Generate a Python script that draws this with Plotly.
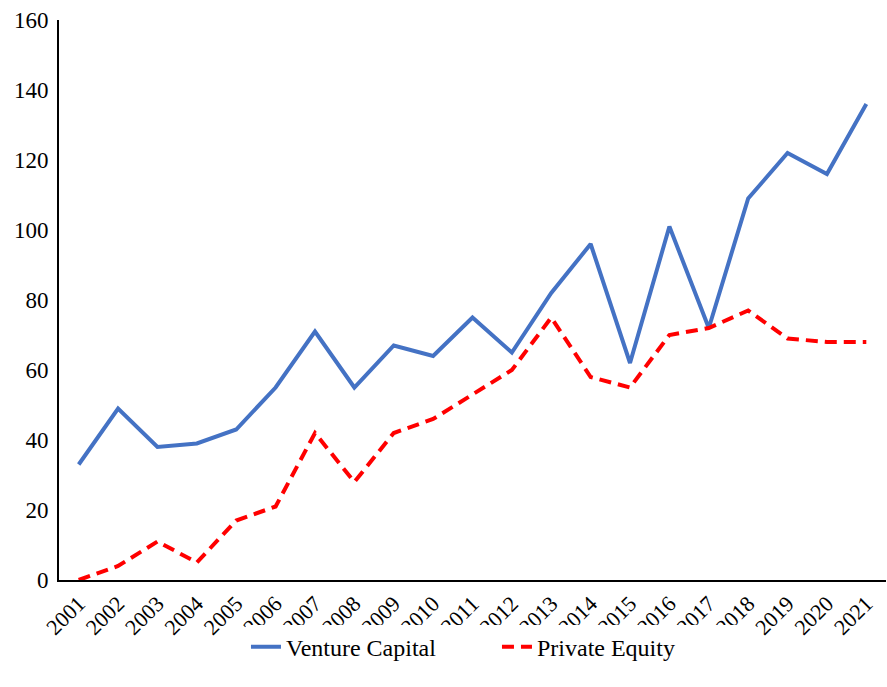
import plotly.graph_objects as go

years = [str(y) for y in range(2001, 2022)]
venture_capital = [33, 49, 38, 39, 43, 55, 71, 55, 67, 64, 75, 65, 82, 96, 62, 101, 72, 109, 122, 116, 136]
private_equity = [0, 4, 11, 5, 17, 21, 42, 28, 42, 46, 53, 60, 75, 58, 55, 70, 72, 77, 69, 68, 68]

fig = go.Figure()
fig.add_trace(go.Scatter(x=years, y=venture_capital, mode="lines", name="Venture Capital",
                         line=dict(color="#4472C4", width=4)))
fig.add_trace(go.Scatter(x=years, y=private_equity, mode="lines", name="Private Equity",
                         line=dict(color="#FF0000", width=4, dash="12px,7px")))

font = "Liberation Serif, Times New Roman, serif"
fig.update_layout(
    width=887, height=687,
    margin=dict(l=59, r=1, t=20, b=107, autoexpand=False),
    paper_bgcolor="white", plot_bgcolor="white",
    font=dict(family=font, size=22, color="black"),
    showlegend=True,
    legend=dict(orientation="h", xref="container", yref="container",
                x=0.2773, xanchor="left", y=0.058, yanchor="middle",
                entrywidth=206, entrywidthmode="pixels",
                font=dict(family=font, size=24), tracegroupgap=0),
    xaxis=dict(type="category", range=[-0.5, 20.5], showgrid=False, showline=True,
               linecolor="black", linewidth=2, ticks="", tickangle=-45,
               tickfont=dict(family=font, size=22), zeroline=False, automargin=False),
    yaxis=dict(range=[0, 160], dtick=20, showgrid=False, showline=True,
               linecolor="black", linewidth=2, ticks="", tickfont=dict(family=font, size=23),
               zeroline=False, ticklabelstandoff=4, automargin=False),
)
fig.write_html("out.html", config={"displayModeBar": False},
               post_script="document.body.style.margin='0';")
